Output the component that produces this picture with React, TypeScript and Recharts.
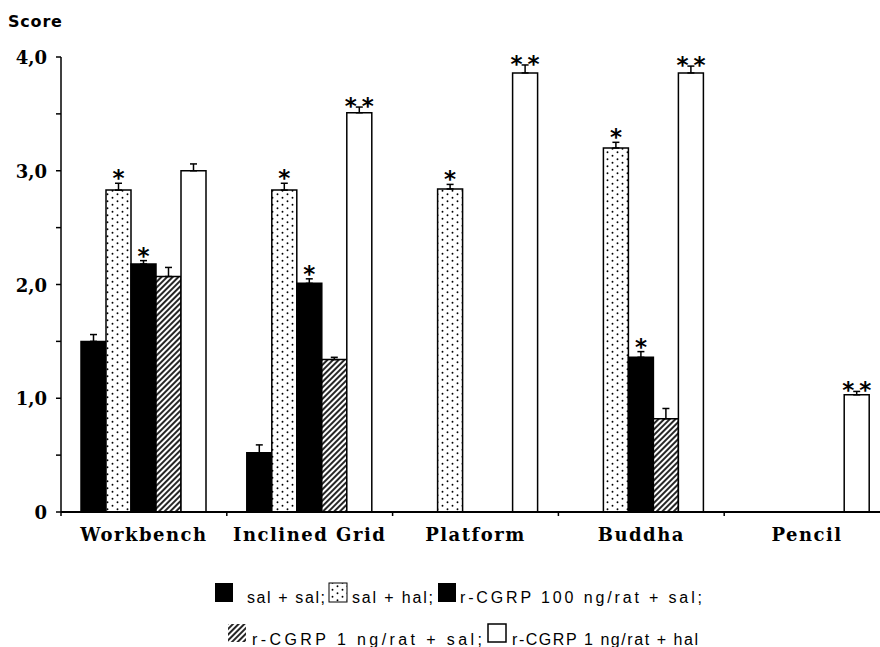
import React from 'react';
import { BarChart, Bar, XAxis, YAxis, ErrorBar, LabelList } from 'recharts';

const categories = ['Workbench', 'Inclined Grid', 'Platform', 'Buddha', 'Pencil'];

const salSal = [1.5, 0.52, null, null, null];
const salSalErr = [0.06, 0.07, null, null, null];

const salHal = [2.83, 2.83, 2.84, 3.2, null];
const salHalErr = [0.06, 0.06, 0.04, 0.05, null];
const salHalStars = ['*', '*', '*', '*', ''];

const cgrp100Sal = [2.18, 2.01, null, 1.36, null];
const cgrp100SalErr = [0.03, 0.04, null, 0.05, null];
const cgrp100SalStars = ['*', '*', '', '*', ''];

const cgrp1Sal = [2.07, 1.34, null, 0.82, null];
const cgrp1SalErr = [0.08, 0.02, null, 0.09, null];

const cgrp1Hal = [3.0, 3.51, 3.86, 3.86, 1.03];
const cgrp1HalErr = [0.06, 0.05, 0.07, 0.06, 0.03];
const cgrp1HalStars = ['', '**', '**', '**', '**'];

const yTicks = [0, 0.5, 1, 1.5, 2, 2.5, 3, 3.5, 4];
const yTickLabels: Record<string, string> = { '0': '0', '1': '1,0', '2': '2,0', '3': '3,0', '4': '4,0' };

const legendLabels = [
  'sal + sal;',
  'sal + hal;',
  'r-CGRP 100 ng/rat + sal;',
  'r-CGRP 1 ng/rat + sal;',
  'r-CGRP 1 ng/rat + hal',
];

const data = categories.map((name, i) => ({
  name,
  s0: salSal[i],
  e0: salSalErr[i] != null ? [0, salSalErr[i]] : null,
  s1: salHal[i],
  e1: salHalErr[i] != null ? [0, salHalErr[i]] : null,
  s2: cgrp100Sal[i],
  e2: cgrp100SalErr[i] != null ? [0, cgrp100SalErr[i]] : null,
  s3: cgrp1Sal[i],
  e3: cgrp1SalErr[i] != null ? [0, cgrp1SalErr[i]] : null,
  s4: cgrp1Hal[i],
  e4: cgrp1HalErr[i] != null ? [0, cgrp1HalErr[i]] : null,
}));

const makeStars = (values: (number | null)[], errs: (number | null)[], stars: string[]) => (props: any) => {
  const nonNull = values.map((v, i) => (v != null ? i : -1)).filter((i) => i >= 0);
  let idx = props.index;
  const mapped = nonNull[props.index];
  if (mapped != null && values[mapped] === props.value) idx = mapped;
  const v = values[idx];
  const s = stars[idx];
  if (v == null || !s) return null;
  const vb = props.viewBox || {};
  const x = props.x ?? vb.x;
  const y = props.y ?? vb.y;
  const w = props.width ?? vb.width;
  const h = props.height ?? vb.height;
  const ppu = Math.abs(h) / v;
  const errTop = y - (errs[idx] || 0) * ppu;
  const cx = x + w / 2;
  const style = { fontFamily: 'DejaVu Sans', fontWeight: 700, fontSize: 23 } as any;
  if (s === '**') {
    const base = errTop + 7;
    return (
      <g>
        <text x={cx - 8.5} y={base} textAnchor="middle" style={style} fill="#000">*</text>
        <text x={cx + 8.5} y={base} textAnchor="middle" style={style} fill="#000">*</text>
      </g>
    );
  }
  return (
    <text x={cx} y={errTop + 3} textAnchor="middle" style={style} fill="#000">*</text>
  );
};

const XTick = (props: any) => {
  const { x, y, payload } = props;
  const count = props.visibleTicksCount || 5;
  const band = props.width ? props.width / count : 165.8;
  return (
    <g>
      <line x1={x - band / 2} y1={y} x2={x - band / 2} y2={y + 4} stroke="#000" strokeWidth={1.5} />
      <text
        x={x}
        y={y + 29}
        textAnchor="middle"
        fill="#000"
        style={{ fontFamily: 'DejaVu Serif', fontWeight: 700, fontSize: 18, letterSpacing: 1.5 }}
      >
        {payload.value}
      </text>
    </g>
  );
};

const YTick = (props: any) => {
  const { x, y, payload } = props;
  const label = yTickLabels[String(payload.value)];
  if (!label) return null;
  return (
    <text
      x={x}
      y={y + 7}
      textAnchor="end"
      fill="#000"
      style={{ fontFamily: 'DejaVu Serif', fontWeight: 700, fontSize: 18 }}
    >
      {label}
    </text>
  );
};

const fills = ['#000', 'url(#dots)', '#000', 'url(#hatch)', '#fff'];

export default function App() {
  return (
    <div style={{ position: 'absolute', left: 0, top: 0, width: 880, height: 647, overflow: 'hidden', background: '#fff' }}>
      <svg width={0} height={0} style={{ position: 'absolute' }}>
        <defs>
          <pattern id="dots" width="10" height="7" patternUnits="userSpaceOnUse">
            <rect width="10" height="7" fill="#fff" />
            <circle cx="2.5" cy="1.75" r="0.95" fill="#000" />
            <circle cx="7.5" cy="5.25" r="0.95" fill="#000" />
          </pattern>
          <pattern id="hatch" width="4" height="4" patternUnits="userSpaceOnUse" patternTransform="rotate(45)">
            <rect width="4" height="4" fill="#fff" />
            <line x1="2" y1="0" x2="2" y2="4" stroke="#000" strokeWidth="1.7" />
          </pattern>
        </defs>
      </svg>
      <div style={{ position: 'absolute', left: 0, top: 0 }}>
        <BarChart
          width={890}
          height={547}
          data={data}
          margin={{ top: 57, right: 0, left: 0, bottom: 0 }}
          barGap={0}
          barCategoryGap={20}
        >
          <XAxis
            dataKey="name"
            height={35}
            interval={0}
            axisLine={{ stroke: '#000', strokeWidth: 2 }}
            tickLine={false}
            tickSize={0}
            tickMargin={0}
            tick={<XTick />}
          />
          <YAxis
            width={61}
            domain={[0, 4]}
            ticks={yTicks}
            interval={0}
            axisLine={{ stroke: '#000', strokeWidth: 1.5 }}
            tickLine={{ stroke: '#000', strokeWidth: 1.5 }}
            tickSize={5}
            tickMargin={9}
            tick={<YTick />}
          />
          <Bar dataKey="s0" fill={fills[0]} stroke="#000" strokeWidth={1.5} isAnimationActive={false}>
            <ErrorBar dataKey="e0" width={3.5} stroke="#000" strokeWidth={1.5} direction="y" />
          </Bar>
          <Bar dataKey="s1" fill={fills[1]} stroke="#000" strokeWidth={1.5} isAnimationActive={false}>
            <ErrorBar dataKey="e1" width={3.5} stroke="#000" strokeWidth={1.5} direction="y" />
            <LabelList dataKey="s1" content={makeStars(salHal, salHalErr, salHalStars)} />
          </Bar>
          <Bar dataKey="s2" fill={fills[2]} stroke="#000" strokeWidth={1.5} isAnimationActive={false}>
            <ErrorBar dataKey="e2" width={3.5} stroke="#000" strokeWidth={1.5} direction="y" />
            <LabelList dataKey="s2" content={makeStars(cgrp100Sal, cgrp100SalErr, cgrp100SalStars)} />
          </Bar>
          <Bar dataKey="s3" fill={fills[3]} stroke="#000" strokeWidth={1.5} isAnimationActive={false}>
            <ErrorBar dataKey="e3" width={3.5} stroke="#000" strokeWidth={1.5} direction="y" />
          </Bar>
          <Bar dataKey="s4" fill={fills[4]} stroke="#000" strokeWidth={1.5} isAnimationActive={false}>
            <ErrorBar dataKey="e4" width={3.5} stroke="#000" strokeWidth={1.5} direction="y" />
            <LabelList dataKey="s4" content={makeStars(cgrp1Hal, cgrp1HalErr, cgrp1HalStars)} />
          </Bar>
        </BarChart>
      </div>
      <svg width={880} height={647} style={{ position: 'absolute', left: 0, top: 0, pointerEvents: 'none' }}>
        <text x={8} y={27} fill="#000" style={{ fontFamily: 'DejaVu Sans', fontWeight: 700, fontSize: 16, letterSpacing: 0.8 }}>
          Score
        </text>
        <g style={{ fontFamily: 'Liberation Sans', fontSize: 16 }} fill="#000">
          <rect x={215} y={583} width={18} height={19} fill="#000" />
          <text x={247} y={603} textLength={78} lengthAdjust="spacing">{legendLabels[0]}</text>
          <rect x={329} y={583} width={18} height={19} fill="url(#dots)" stroke="#000" strokeWidth={1} />
          <text x={352} y={603} textLength={81} lengthAdjust="spacing">{legendLabels[1]}</text>
          <rect x={438} y={583} width={18} height={19} fill="#000" />
          <text x={460} y={603} textLength={242} lengthAdjust="spacing">{legendLabels[2]}</text>
          <rect x={228} y={624} width={18} height={18} fill="url(#hatch)" />
          <text x={252} y={645} textLength={230} lengthAdjust="spacing">{legendLabels[3]}</text>
          <rect x={488} y={624} width={18} height={18} fill="#fff" stroke="#000" strokeWidth={1.5} />
          <text x={512} y={645} textLength={186} lengthAdjust="spacing">{legendLabels[4]}</text>
        </g>
      </svg>
    </div>
  );
}
